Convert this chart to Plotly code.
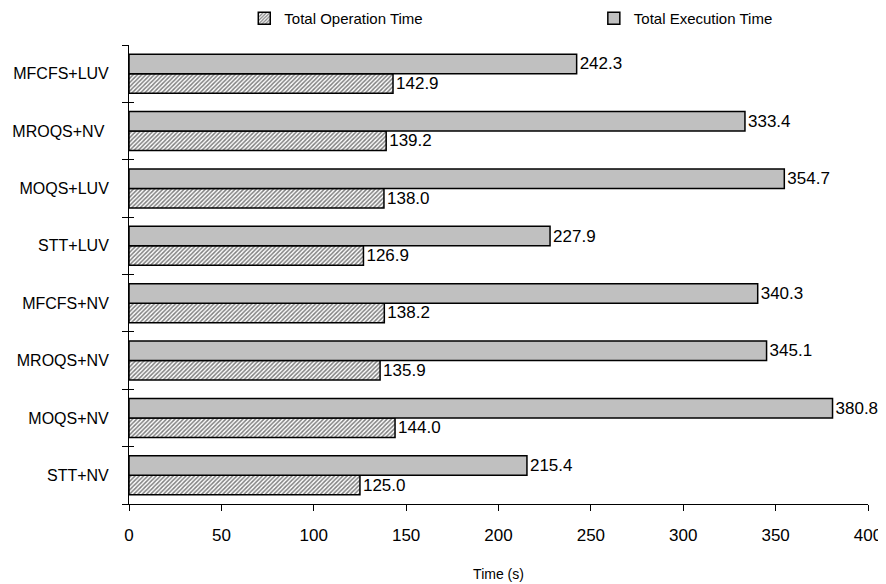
import plotly.graph_objects as go

categories = ["STT+NV", "MOQS+NV", "MROQS+NV", "MFCFS+NV", "STT+LUV", "MOQS+LUV", "MROQS+NV ", "MFCFS+LUV"]
operation_time = [125.0, 144.0, 135.9, 138.2, 126.9, 138.0, 139.2, 142.9]
execution_time = [215.4, 380.8, 345.1, 340.3, 227.9, 354.7, 333.4, 242.3]
x_ticks = [0, 50, 100, 150, 200, 250, 300, 350, 400]

FAM = "Liberation Sans, Arial, sans-serif"
label_font = dict(family=FAM, size=16, color="black")
num_font = dict(family=FAM, size=17, color="black")
legend_font = dict(family=FAM, size=15, color="black")
title_font = dict(family=FAM, size=14, color="black")

fig = go.Figure()
fig.add_trace(go.Bar(
    y=categories, x=operation_time, orientation="h", name="Total Operation Time",
    marker=dict(color="white", line=dict(color="black", width=1.5),
                pattern=dict(shape="/", fgcolor="black", bgcolor="white", size=3, solidity=0.5)),
    text=[f"{v:.1f}" for v in operation_time], textposition="outside",
    textfont=num_font, cliponaxis=False, legend="legend",
))
fig.add_trace(go.Bar(
    y=categories, x=execution_time, orientation="h", name="Total Execution Time",
    marker=dict(color="#c0c0c0", line=dict(color="black", width=1.5)),
    text=[f"{v:.1f}" for v in execution_time], textposition="outside",
    textfont=num_font, cliponaxis=False, legend="legend2",
))
# invisible helper trace so the overlay axis draws the inner halves of the y ticks
fig.add_trace(go.Scatter(
    y=categories, x=[0] * len(categories), yaxis="y2", mode="markers",
    marker=dict(opacity=0), showlegend=False, hoverinfo="skip",
))

fig.update_layout(
    width=886, height=584,
    margin=dict(l=121, r=26, t=37, b=88),
    paper_bgcolor="white", plot_bgcolor="white",
    font=label_font,
    barmode="group", bargap=0.32, bargroupgap=0,
    showlegend=True,
    legend=dict(orientation="h", x=0.156, xanchor="left", yref="container", y=0.982,
                yanchor="middle", font=legend_font, bgcolor="rgba(0,0,0,0)"),
    legend2=dict(orientation="h", x=0.629, xanchor="left", yref="container", y=0.982,
                 yanchor="middle", font=legend_font, bgcolor="rgba(0,0,0,0)"),
    xaxis=dict(range=[0, 400], tickvals=x_ticks, ticks="outside", ticklen=6,
               tickcolor="black", showline=True, linecolor="black", linewidth=1,
               showgrid=False, zeroline=False, automargin=False,
               ticklabelstandoff=10,
               title=dict(text="Time (s)", font=title_font, standoff=24),
               tickfont=num_font),
    yaxis=dict(type="category", categoryorder="array", categoryarray=categories,
               range=[-0.5, 7.5], ticks="outside", tickson="boundaries", ticklen=6,
               tickcolor="black", showline=True, linecolor="black", linewidth=1,
               showgrid=False, tickfont=label_font, automargin=False, ticklabelstandoff=16),
    yaxis2=dict(type="category", categoryorder="array", categoryarray=categories,
                range=[-0.5, 7.5], overlaying="y", side="left", ticks="inside",
                tickson="boundaries", ticklen=5, tickcolor="black", showticklabels=False,
                showline=False, showgrid=False, automargin=False),
)

fig.write_html("out.html")
